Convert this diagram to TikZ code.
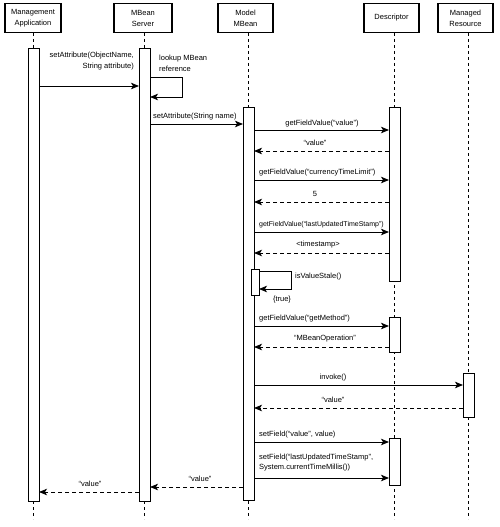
\documentclass[tikz,border=0pt]{standalone}
\usepackage{fontspec}
\setmainfont{Liberation Sans}
\usetikzlibrary{arrows.meta}
\begin{document}
\begin{tikzpicture}[x=1pt,y=-1pt,
  font=\fontsize{7.5}{11}\selectfont,
  head/.style={draw, line width=1.1pt, minimum width=#1, minimum height=29pt, inner sep=0pt, align=center},
  act/.style={draw, line width=0.9pt, fill=white, minimum width=11pt, inner sep=0pt, outer sep=0pt},
  life/.style={line width=1.3pt, dash pattern=on 3pt off 3pt},
  msg/.style={line width=1pt, -{Stealth[length=8pt,width=6.5pt,inset=2pt]}},
  ret/.style={msg, dash pattern=on 4pt off 3pt},
  lbl/.style={inner sep=0pt, anchor=base},
  lblw/.style={inner sep=0pt, anchor=base west}
]
\useasboundingbox (0,0) rectangle (500,527);

% heads
\node[head=56pt] (hA) at (33,18) {Management\\Application};
\node[head=58pt] (hS) at (143,18) {MBean\\Server};
\node[head=55pt] (hM) at (245.5,18) {Model\\MBean};
\node[head=55pt] (hD) at (391.5,18) {Descriptor};
\node[head=55pt] (hR) at (465.5,18) {Managed\\Resource};

% lifelines
\coordinate (lA) at (33.5,33);
\coordinate (lS) at (144.5,33);
\coordinate (lM) at (248.5,33);
\coordinate (lD) at (394.5,33);
\coordinate (lR) at (468.5,33);
\foreach \l in {lA,lS,lM,lD,lR}{
  \draw[life] (\l) -- (\l |- 0,519);
}

% activations
\node[act, minimum height=453pt] (aA) at (33.5,274.5) {};
\node[act, minimum height=453pt] (aS) at (144.5,274.5) {};
\node[act, minimum height=393pt] (aM) at (248.5,303.5) {};
\node[act, minimum height=174pt] (aD1) at (394.5,194) {};
\node[act, minimum height=35pt] (aD2) at (394.5,334.5) {};
\node[act, minimum height=47pt] (aD3) at (394.5,461.5) {};
\node[act, minimum height=44pt] (aR) at (468.5,395) {};
\node[act, minimum width=8pt, minimum height=26pt] (aM2) at (255,282) {};

% messages
\draw[msg] (aA.east |- 0,86) -- (aS.west |- 0,86);
\node[inner sep=0pt, anchor=east, align=right] (t1) at (134,61) {setAttribute(ObjectName,\\String attribute)};

\draw[msg] (aS.east |- 0,77) -- (182,77) -- (182,97) -- (aS.east |- 0,97);
\node[inner sep=0pt, anchor=west, align=left] (t2) at (159,63) {lookup MBean\\reference};

\draw[msg] (aS.east |- 0,124) -- (aM.west |- 0,124);
\node[lblw] (t3) at (153,118) {setAttribute(String name)};

\draw[msg] (aM.east |- 0,130) -- (aD1.west |- 0,130);
\node[lbl] (t4) at (322,125) {getFieldValue(“value”)};

\draw[ret] (aD1.west |- 0,151) -- (aM.east |- 0,151);
\node[lbl] (t5) at (315,145) {“value”};

\draw[msg] (aM.east |- 0,180) -- (aD1.west |- 0,180);
\node[lblw] (t6) at (259,174) {getFieldValue(“currencyTimeLimit”)};

\draw[ret] (aD1.west |- 0,202) -- (aM.east |- 0,202);
\node[lbl] (t7) at (315,196) {5};

\draw[msg] (aM.east |- 0,232) -- (aD1.west |- 0,232);
\node[lblw, font=\fontsize{7}{10}\selectfont] (t8) at (259,226) {getFieldValue(“lastUpdatedTimeStamp”)};

\draw[ret] (aD1.west |- 0,253) -- (aM.east |- 0,253);
\node[lbl] (t9) at (318,246) {<timestamp>};

\draw[msg] (aM2.east |- 0,271) -- (291,271) -- (291,289) -- (aM2.east |- 0,289);
\node[lblw] (t10) at (295,278) {isValueStale()};
\node[lbl] (t11) at (282,301) {\{true\}};

\draw[msg] (aM.east |- 0,326) -- (aD2.west |- 0,326);
\node[lblw] (t12) at (259,320) {getFieldValue(“getMethod”)};

\draw[ret] (aD2.west |- 0,347) -- (aM.east |- 0,347);
\node[lbl] (t13) at (325,340) {“MBeanOperation”};

\draw[msg] (aM.east |- 0,385) -- (aR.west |- 0,385);
\node[lbl] (t14) at (333,379) {invoke()};

\draw[ret] (aR.west |- 0,408) -- (aM.east |- 0,408);
\node[lbl] (t15) at (333,402) {“value”};

\draw[msg] (aM.east |- 0,442) -- (aD3.west |- 0,442);
\node[lblw] (t16) at (259,436) {setField(“value”, value)};

\draw[msg] (aM.east |- 0,478) -- (aD3.west |- 0,478);
\node[inner sep=0pt, anchor=west, align=left, font=\fontsize{7.5}{10}\selectfont] (t17) at (259,463) {setField(“lastUpdatedTimeStamp”,\\System.currentTimeMillis())};

\draw[ret] (aM.west |- 0,487) -- (aS.east |- 0,487);
\node[lbl] (t18) at (200,481) {“value”};

\draw[ret] (aS.west |- 0,492) -- (aA.east |- 0,492);
\node[lbl] (t19) at (90,486) {“value”};
\end{tikzpicture}
\end{document}
